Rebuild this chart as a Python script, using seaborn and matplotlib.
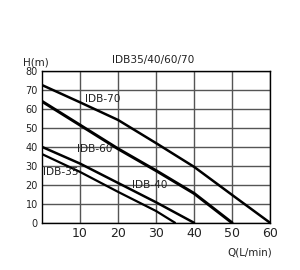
import matplotlib
matplotlib.use("Agg")
import matplotlib.pyplot as plt
import seaborn as sns
import pandas as pd

q_70 = [0, 10, 20, 30, 40, 50, 60]
h_70 = [72.6, 63.5, 54.2, 42, 29.5, 14.7, 0]
q_60 = [0, 10, 20, 30, 40, 50]
h_60 = [64, 51.5, 39, 27.5, 15.5, 0]
q_40 = [0, 10, 20, 30, 40]
h_40 = [40, 31.2, 21, 10.8, 0]
q_35 = [0, 10, 20, 30, 35]
h_35 = [36.2, 26.8, 16.3, 6.2, 0]
models = ["IDB-70", "IDB-60", "IDB-40", "IDB-35"]
x_ticks = [10, 20, 30, 40, 50, 60]
y_ticks = [0, 10, 20, 30, 40, 50, 60, 70, 80]

frames = []
for name, q, h in zip(models, [q_70, q_60, q_40, q_35], [h_70, h_60, h_40, h_35]):
    frames.append(pd.DataFrame({"Q": q, "H": h, "model": name}))
df = pd.concat(frames, ignore_index=True)

sns.set_style("white")
plt.rcParams["font.family"] = ["DejaVu Sans"]

fig = plt.figure(figsize=(3.0, 2.7), dpi=100)
ax = fig.add_axes([0.14, 0.175, 0.76, 0.562])

sns.lineplot(data=df, x="Q", y="H", hue="model", hue_order=models,
             palette=["black"] * 4, size="model",
             sizes={"IDB-70": 1.8, "IDB-60": 2.2, "IDB-40": 1.8, "IDB-35": 1.6},
             legend=False, ax=ax, sort=False)

ax.set_xlim(0, 60)
ax.set_ylim(0, 80)
ax.set_xticks(x_ticks)
ax.set_yticks(y_ticks)
ax.set_xticklabels([str(v) for v in x_ticks], fontsize=9, color="#222222")
ax.set_yticklabels([str(v) for v in y_ticks], fontsize=7, color="#222222")
ax.tick_params(length=0, pad=3)
ax.grid(True, color="#555555", linewidth=1.0)
ax.set_axisbelow(True)
for s in ax.spines.values():
    s.set_color("black")
    s.set_linewidth(1.0)
ax.set_xlabel("")
ax.set_ylabel("")

label_pos = {"IDB-70": (11.4, 65), "IDB-60": (9.2, 38.8), "IDB-40": (23.8, 19.8), "IDB-35": (0.3, 26.5)}
for name in models:
    x, y = label_pos[name]
    ax.text(x, y, name, fontsize=7.6, color="#222222", va="center", ha="left")

fig.text(0.51, 0.778, "IDB35/40/60/70", fontsize=7.6, ha="center", va="center", color="#222222")
fig.text(0.075, 0.77, "H(m)", fontsize=7.4, ha="left", va="center", color="#222222")
fig.text(0.907, 0.063, "Q(L/min)", fontsize=7.4, ha="right", va="center", color="#222222")

fig.savefig("out.png", dpi=100)
